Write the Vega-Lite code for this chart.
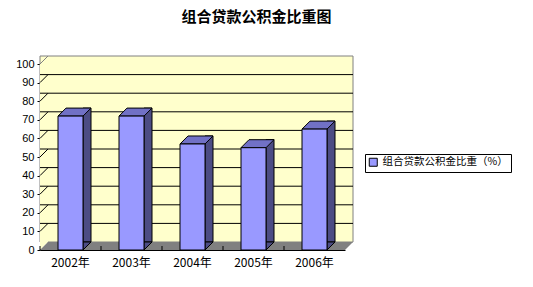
{
  "$schema": "https://vega.github.io/schema/vega-lite/v6.json",
  "width": 305,
  "height": 186,
  "autosize": "none",
  "padding": {"left": 40, "top": 64, "right": 188, "bottom": 37},
  "background": "white",
  "title": {
    "text": "组合贷款公积金比重图",
    "font": "Noto Sans CJK SC",
    "fontSize": 15,
    "fontWeight": "bold",
    "color": "black",
    "frame": "group",
    "anchor": "middle",
    "dx": 64,
    "offset": 29
  },
  "config": {
    "view": {"stroke": null},
    "axisX": {
      "title": null,
      "labelAngle": 0,
      "labelFont": "Noto Sans CJK SC",
      "labelFontSize": 12,
      "labelColor": "black",
      "labelPadding": 7,
      "domainColor": "black",
      "ticks": false,
      "grid": false,
      "zindex": 1
    },
    "axisY": {
      "title": null,
      "labelFont": "Liberation Sans",
      "labelFontSize": 11,
      "labelColor": "black",
      "labelPadding": 3,
      "labelOverlap": false,
      "domainColor": "black",
      "tickColor": "black",
      "tickSize": 3,
      "grid": false,
      "zindex": 1
    }
  },
  "datasets": {
    "share": [
      {"year": "2002年", "share": 72, "series": "组合贷款公积金比重（%）"},
      {"year": "2003年", "share": 72, "series": "组合贷款公积金比重（%）"},
      {"year": "2004年", "share": 57, "series": "组合贷款公积金比重（%）"},
      {"year": "2005年", "share": 55, "series": "组合贷款公积金比重（%）"},
      {"year": "2006年", "share": 65, "series": "组合贷款公积金比重（%）"}
    ],
    "grid": [
      {"v": 10}, {"v": 20}, {"v": 30}, {"v": 40}, {"v": 50},
      {"v": 60}, {"v": 70}, {"v": 80}, {"v": 90}
    ],
    "frame": [{}]
  },
  "layer": [
    {
      "description": "invisible bars that carry the axes",
      "data": {"name": "share"},
      "mark": {"type": "bar", "width": 25, "opacity": 0},
      "encoding": {
        "x": {
          "field": "year",
          "type": "nominal",
          "title": null,
          "scale": {"domain": ["2002年", "2003年", "2004年", "2005年", "2006年"], "paddingInner": 0, "paddingOuter": 0}
        },
        "y": {
          "field": "share",
          "type": "quantitative",
          "title": null,
          "scale": {"domain": [0, 100], "nice": false},
          "axis": {"values": [0, 10, 20, 30, 40, 50, 60, 70, 80, 90, 100]}
        }
      }
    },
    {
      "description": "back wall",
      "data": {"name": "frame"},
      "mark": {"type": "rect", "fill": "#FFFFCC", "stroke": "#808080", "strokeWidth": 1,
               "xOffset": 8, "x2Offset": 8, "yOffset": -8, "y2Offset": -8},
      "encoding": {
        "y": {"datum": 0, "type": "quantitative", "axis": {"values": [0, 10, 20, 30, 40, 50, 60, 70, 80, 90, 100]}},
        "y2": {"datum": 100}
      }
    },
    {
      "description": "left side wall",
      "data": {"name": "frame"},
      "mark": {"type": "point", "shape": "M0,0L0,-186L8,-194L8,-8Z", "size": 4, "filled": true,
               "fill": "#FFFFCC", "strokeWidth": 0, "opacity": 1},
      "encoding": {
        "x": {"datum": "2002年", "type": "nominal", "bandPosition": 0},
        "y": {"datum": 0, "type": "quantitative", "axis": {"values": [0, 10, 20, 30, 40, 50, 60, 70, 80, 90, 100]}}
      }
    },
    {
      "description": "gridlines on the back wall",
      "data": {"name": "grid"},
      "mark": {"type": "rule", "color": "black", "strokeWidth": 1, "xOffset": 8, "x2Offset": 8, "yOffset": -8},
      "encoding": {"y": {"field": "v", "type": "quantitative", "title": null, "axis": {"values": [0, 10, 20, 30, 40, 50, 60, 70, 80, 90, 100]}}}
    },
    {
      "description": "gridlines running across the side wall",
      "data": {"name": "grid"},
      "mark": {"type": "point", "shape": "M0,0L8,-8", "size": 4, "filled": false, "color": "black",
               "strokeWidth": 1, "opacity": 1},
      "encoding": {
        "x": {"datum": "2002年", "type": "nominal", "bandPosition": 0},
        "y": {"field": "v", "type": "quantitative", "title": null, "axis": {"values": [0, 10, 20, 30, 40, 50, 60, 70, 80, 90, 100]}}
      }
    },
    {
      "description": "top edge of the side wall",
      "data": {"name": "frame"},
      "mark": {"type": "point", "shape": "M0,0L8,-8", "size": 4, "filled": false, "color": "#808080",
               "strokeWidth": 1, "opacity": 1},
      "encoding": {
        "x": {"datum": "2002年", "type": "nominal", "bandPosition": 0},
        "y": {"datum": 100, "type": "quantitative", "axis": {"values": [0, 10, 20, 30, 40, 50, 60, 70, 80, 90, 100]}}
      }
    },
    {
      "description": "floor",
      "data": {"name": "frame"},
      "mark": {"type": "point", "shape": "M0,0L305,0L313,-8L8,-8Z", "size": 4, "filled": true,
               "fill": "#808080", "strokeWidth": 0, "opacity": 1},
      "encoding": {
        "x": {"datum": "2002年", "type": "nominal", "bandPosition": 0},
        "y": {"datum": 0, "type": "quantitative", "axis": {"values": [0, 10, 20, 30, 40, 50, 60, 70, 80, 90, 100]}}
      }
    },
    {
      "description": "category ticks on the floor edge",
      "data": {"name": "share"},
      "mark": {"type": "rule", "color": "black", "strokeWidth": 1, "y2Offset": -4},
      "encoding": {
        "x": {"field": "year", "type": "nominal", "bandPosition": 0, "title": null},
        "y": {"datum": 0, "type": "quantitative", "axis": {"values": [0, 10, 20, 30, 40, 50, 60, 70, 80, 90, 100]}},
        "y2": {"datum": 0}
      }
    },
    {
      "description": "bar side faces",
      "data": {"name": "share"},
      "mark": {"type": "bar", "width": 8, "xOffset": 16.5, "yOffset": -8, "y2Offset": -8,
               "fill": "#4C4C84", "stroke": "black", "strokeWidth": 1},
      "encoding": {
        "x": {"field": "year", "type": "nominal", "title": null},
        "y": {"field": "share", "type": "quantitative", "title": null, "axis": {"values": [0, 10, 20, 30, 40, 50, 60, 70, 80, 90, 100]}},
        "y2": {"datum": 0}
      }
    },
    {
      "description": "bar side faces, lower corner",
      "data": {"name": "share"},
      "mark": {"type": "point", "shape": "M0,0L0,-8L8,-8Z", "size": 4, "filled": true, "xOffset": 12.5,
               "fill": "#4C4C84", "stroke": "black", "strokeWidth": 1, "opacity": 1},
      "encoding": {
        "x": {"field": "year", "type": "nominal", "title": null},
        "y": {"datum": 0, "type": "quantitative", "axis": {"values": [0, 10, 20, 30, 40, 50, 60, 70, 80, 90, 100]}}
      }
    },
    {
      "description": "bar top faces",
      "data": {"name": "share"},
      "mark": {"type": "point", "shape": "M0,0L25,0L33,-8L8,-8Z", "size": 4, "filled": true, "xOffset": -12.5,
               "fill": "#7171C6", "stroke": "black", "strokeWidth": 1, "opacity": 1},
      "encoding": {
        "x": {"field": "year", "type": "nominal", "title": null},
        "y": {"field": "share", "type": "quantitative", "title": null, "axis": {"values": [0, 10, 20, 30, 40, 50, 60, 70, 80, 90, 100]}}
      }
    },
    {
      "description": "bar front faces",
      "data": {"name": "share"},
      "mark": {"type": "bar", "width": 25, "stroke": "black", "strokeWidth": 1},
      "encoding": {
        "x": {"field": "year", "type": "nominal", "title": null},
        "y": {"field": "share", "type": "quantitative", "title": null, "axis": {"values": [0, 10, 20, 30, 40, 50, 60, 70, 80, 90, 100]}},
        "color": {
          "field": "series",
          "type": "nominal",
          "scale": {"range": ["#9999FF"]},
          "legend": {
            "title": null,
            "orient": "none",
            "legendX": 325,
            "legendY": 90,
            "strokeColor": "black",
            "fillColor": "white",
            "padding": 3,
            "symbolType": "square",
            "symbolSize": 64,
            "symbolStrokeColor": "black",
            "symbolStrokeWidth": 1,
            "symbolOpacity": 1,
            "labelFont": "Noto Sans CJK SC",
            "labelFontSize": 10.5,
            "labelColor": "black",
            "labelLimit": 0,
            "labelOffset": 4
          }
        }
      }
    }
  ]
}
